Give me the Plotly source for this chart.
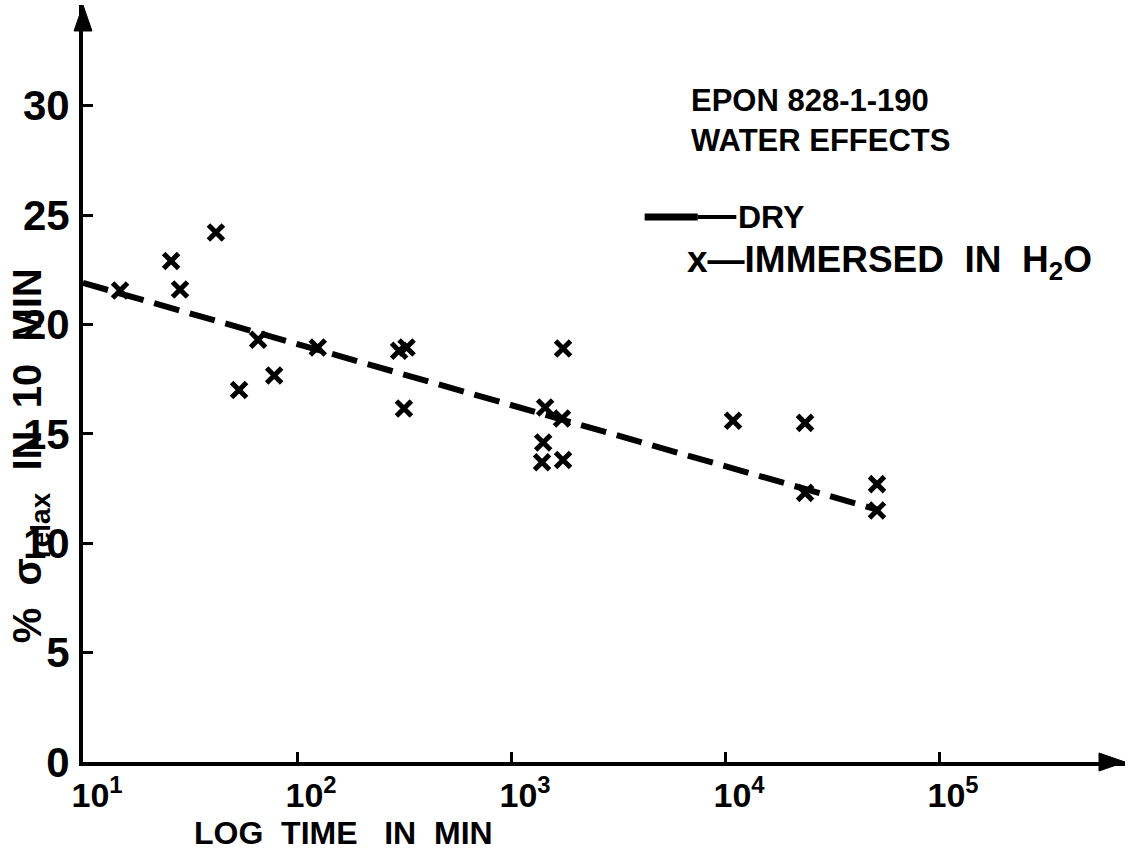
import plotly.graph_objects as go

# ---- data ----
dry_time = [10, 53000]
dry_pct = [21.9, 11.5]

wet_time = [14.9, 25.8, 28.4, 41.8, 53.6, 65.8, 78.2, 125, 300, 325, 316,
            1750, 1443, 1730, 1413, 1396, 1750, 10900, 23650, 23650, 51300, 51300]
wet_pct = [21.55, 22.9, 21.6, 24.2, 17.0, 19.3, 17.67, 18.95, 18.8, 18.95, 16.16,
           18.9, 16.2, 15.7, 14.6, 13.7, 13.8, 15.6, 15.5, 12.3, 12.7, 11.5]

y_ticks = [0, 5, 10, 15, 20, 25, 30]
x_ticks = [10, 100, 1000, 10000, 100000]
x_ticktext = ["<b>10<sup>1</sup></b>", "<b>10<sup>2</sup></b>", "<b>10<sup>3</sup></b>",
              "<b>10<sup>4</sup></b>", "<b>10<sup>5</sup></b>"]

FONT = "Liberation Sans Narrow, Liberation Sans, Arial, sans-serif"

fig = go.Figure()
fig.add_trace(go.Scatter(
    x=dry_time, y=dry_pct, mode="lines", name="DRY",
    line=dict(color="black", width=6, dash="26px,11px"), showlegend=False))
fig.add_trace(go.Scatter(
    x=wet_time, y=wet_pct, mode="markers", name="IMMERSED IN H2O",
    marker=dict(symbol="x-thin-open", size=15, color="black",
                line=dict(color="black", width=5)),
    showlegend=False))

fig.update_layout(
    width=1132, height=850,
    margin=dict(l=83, r=7, t=5, b=88),
    paper_bgcolor="white", plot_bgcolor="white",
    font=dict(family=FONT, color="black", size=30),
    xaxis=dict(type="log", range=[1, 5.869], showgrid=False, zeroline=False,
               showline=True, linecolor="black", linewidth=4,
               ticks="inside", ticklen=10, tickwidth=3, tickcolor="black",
               tickvals=x_ticks, ticktext=x_ticktext, ticklabelshift=14,
               ticklabelstandoff=0,
               tickfont=dict(family=FONT, size=34, color="black")),
    yaxis=dict(range=[0, 34.6], showgrid=False, zeroline=False,
               showline=True, linecolor="black", linewidth=4,
               ticks="inside", ticklen=10, tickwidth=3, tickcolor="black",
               tickvals=y_ticks, ticktext=["<b>%d</b>" % v for v in y_ticks],
               ticklabelstandoff=1,
               tickfont=dict(family=FONT, size=42, color="black")),
)

# arrowheads at the axis ends (small filled triangles)
px_x = 1.0 / 1042
px_y = 1.0 / 757
fig.add_shape(type="path", xref="paper", yref="paper",
              path="M 1.0,0 L %f,%f L %f,%f Z" % (1 - 26 * px_x, 9 * px_y, 1 - 26 * px_x, -9 * px_y),
              fillcolor="black", line=dict(color="black", width=1))
fig.add_shape(type="path", xref="paper", yref="paper",
              path="M 0,1.0 L %f,%f L %f,%f Z" % (-9 * px_x, 1 - 26 * px_y, 9 * px_x, 1 - 26 * px_y),
              fillcolor="black", line=dict(color="black", width=1))

# axis titles
fig.add_annotation(xref="paper", yref="paper", x=0.25, y=-0.094,
                   text="<b>LOG  TIME   IN  MIN</b>", showarrow=False,
                   font=dict(family=FONT, size=32), xanchor="center", yanchor="middle")
fig.add_annotation(xref="paper", yref="paper", x=-0.05, y=0.405,
                   text="<b>%  σ<sub>relax</sub>  IN  10  MIN</b>", showarrow=False,
                   textangle=-90, font=dict(family=FONT, size=40),
                   xanchor="center", yanchor="middle")

# legend / title block
fig.add_annotation(xref="paper", yref="paper", x=0.582, y=0.848,
                   text="<b>EPON 828-1-190<br>WATER EFFECTS</b>", showarrow=False,
                   align="left", xanchor="left", yanchor="middle",
                   font=dict(family=FONT, size=31))
fig.add_shape(type="line", xref="paper", yref="paper",
              x0=0.539, x1=0.59, y0=0.72, y1=0.72,
              line=dict(color="black", width=7))
fig.add_shape(type="line", xref="paper", yref="paper",
              x0=0.59, x1=0.627, y0=0.72, y1=0.72,
              line=dict(color="black", width=4))
fig.add_annotation(xref="paper", yref="paper", x=0.627, y=0.72,
                   text="<b>DRY</b>", showarrow=False, xanchor="left", yanchor="middle",
                   font=dict(family=FONT, size=32))
fig.add_annotation(xref="paper", yref="paper", x=0.578, y=0.66,
                   text="<b>x—IMMERSED  IN  H<sub>2</sub>O</b>", showarrow=False,
                   xanchor="left", yanchor="middle",
                   font=dict(family=FONT, size=37))

fig.write_html("out.html")
